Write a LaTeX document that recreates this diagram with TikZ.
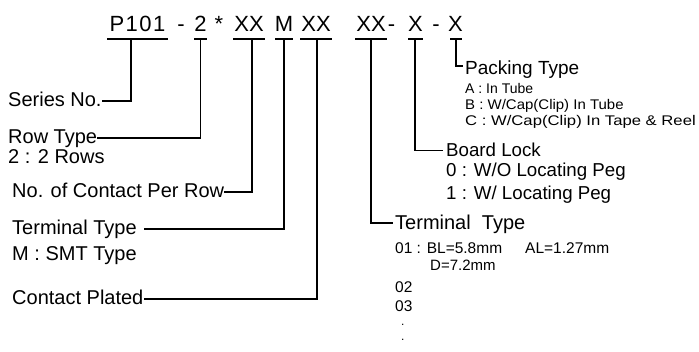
\documentclass[tikz,border=0pt]{standalone}
\usepackage{fontspec}
\usepackage{graphicx}
\setmainfont{Liberation Sans}
\begin{document}
\begin{tikzpicture}[x=1pt,y=-1pt,
  conn/.style={line width=1.9pt},
  lbl/.style={font=\fontsize{20}{24}\selectfont, inner sep=0pt, anchor=base west, text height=12pt, text depth=0pt},
  mid/.style={lbl, font=\fontsize{18.7}{22}\selectfont},
  small/.style={lbl, font=\fontsize{14}{16}\selectfont},
  smallb/.style={lbl, font=\fontsize{15.5}{18}\selectfont},
  dotlbl/.style={lbl, font=\fontsize{12}{14}\selectfont, text height=2pt},
  code/.style={font=\fontsize{22}{26}\selectfont, inner sep=0pt, anchor=base}]
\useasboundingbox[fill=white] (0,0) rectangle (699,352);

% code line
\node[code] (cP) at (137.5,32) {\addfontfeature{LetterSpace=7}P101};
\node[code] (d1) at (181,32) {-};
\node[code] (c2) at (200.5,32) {2};
\node[code] (st) at (219,32) {*};
\node[code] (cX1) at (249,32) {XX};
\node[code] (cM) at (284,32) {M};
\node[code] (cX2) at (316,32) {XX};
\node[code] (cX3) at (371,32) {XX};
\node[code] (d2) at (391.5,32) {-};
\node[code] (cB) at (415.5,32) {X};
\node[code] (d3) at (436,32) {-};
\node[code] (cK) at (455.5,32) {X};

% bars
\draw[conn] (107,39) -- (168,39);
\draw[conn] (194,39) -- (207,39);
\draw[conn] (233,39) -- (265,39);
\draw[conn] (275,39) -- (293,39);
\draw[conn] (300,39) -- (332,39);
\draw[conn] (355,39) -- (387,39);
\draw[conn] (408,39) -- (423,39);
\draw[conn] (450,39) -- (462,39);

\coordinate (sP) at (131,39);
\coordinate (s2) at (200.5,39);
\coordinate (sX1) at (252,39);
\coordinate (sM) at (284.3,39);
\coordinate (sX2) at (316.7,39);
\coordinate (sX3) at (371,39);
\coordinate (sB) at (415,39);
\coordinate (sK) at (456,39);

% left labels
\node[lbl] (series) at (8,107) {Series No.};
\node[lbl] (row) at (8,144) {Row Type};
\node[lbl] (rowv) at (8,164) {2 : 2 Rows};
\node[lbl] (npr) at (12,198) {No. of Contact Per Row};
\node[lbl] (termL) at (12,235) {Terminal Type};
\node[lbl] (smt) at (12,260.5) {M : SMT Type};
\node[lbl] (plated) at (12,305) {Contact Plated};

% right labels
\node[mid, font=\fontsize{19}{22}\selectfont] (pack) at (465,75) {Packing Type};
\node[small] (pA) at (465,93.5) {A : In Tube};
\node[small] (pB) at (465,109.5) {\scalebox{1.07}[1]{B : W/Cap(Clip) In Tube}};
\node[small] (pC) at (465,125.5) {\scalebox{1.19}[1]{C : W/Cap(Clip) In Tape \& Reel}};
\node[mid] (board) at (446,156.5) {Board Lock};
\node[mid] (b0) at (446,177) {0 : W/O Locating Peg};
\node[mid] (b1) at (446,200) {1 : W/ Locating Peg};
\node[lbl] (termR) at (395,229.3) {Terminal\ \ Type};
\node[smallb] (t1) at (395,254) {01 : BL=5.8mm};
\node[smallb] (t1b) at (525,254) {AL=1.27mm};
\node[smallb, font=\fontsize{15}{18}\selectfont] (t1c) at (430,270.5) {D=7.2mm};
\node[smallb] (t2) at (395,292.5) {02};
\node[smallb] (t3) at (395,311.5) {03};
\node[dotlbl] (t4) at (401,326) {.};
\node[dotlbl] (t5) at (401,341) {.};

% connectors
\draw[conn] (sP) |- (series.east);
\draw[conn] (s2) |- (row.east);
\draw[conn] (sX1) |- (npr.east);
\draw[conn] (sM) |- ([xshift=7pt]termL.east);
\draw[conn] (sX2) |- (plated.east);
\draw[conn] (sX3) |- ([xshift=-2pt]termR.west);
\draw[conn] (sB) |- ([xshift=-3pt]board.west);
\draw[conn] (sK) |- ([xshift=-2pt,yshift=3pt]pack.west);
\end{tikzpicture}
\end{document}
